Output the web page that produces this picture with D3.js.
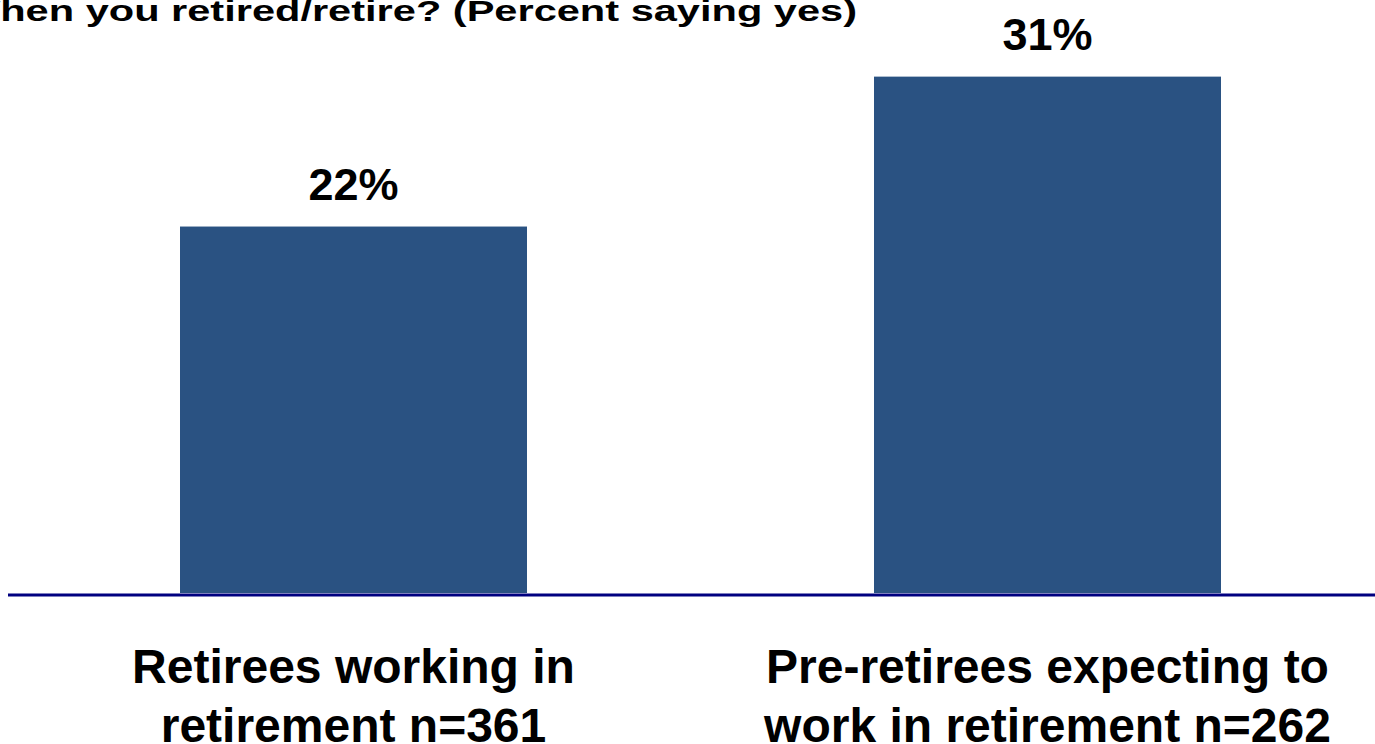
<!DOCTYPE html>
<html>
<head>
<meta charset="utf-8">
<script src="https://cdn.jsdelivr.net/npm/d3@7"></script>
<style>
  html, body { margin: 0; padding: 0; background: #fff; overflow: hidden; }
  svg { display: block; }
  text { font-family: "Liberation Sans", Arial, sans-serif; font-weight: bold; fill: #000; }
</style>
</head>
<body>
<svg id="chart" width="1375" height="744"></svg>
<script>
const titleHidden = "W";
const titleVisible = "hen you retired/retire? (Percent saying yes)";
const categories = ["Retirees working in retirement n=361", "Pre-retirees expecting to work in retirement n=262"];
const labelLines = [["Retirees working in", "retirement n=361"], ["Pre-retirees expecting to", "work in retirement n=262"]];
const values = [22, 31];

const W = 1375, H = 744;
const svg = d3.select("#chart");

const x = d3.scaleBand().domain(categories).range([6.5, 1394.5]).paddingInner(0.5).paddingOuter(0.25);
const y = d3.scaleLinear().domain([0, 35.6]).range([593, 0]);

// Title (left part clipped as in the reference; text drawn horizontally stretched)
const titleEnd = 857;
const tmp = svg.append("text").style("font-size", "29px").text(titleVisible);
const visW = tmp.node().getComputedTextLength();
tmp.remove();
const sx = titleEnd / visW;
svg.append("g")
  .attr("transform", `translate(${titleEnd},21) scale(${sx},1)`)
  .append("text")
  .attr("text-anchor", "end")
  .style("font-size", "29px")
  .text(titleHidden + titleVisible);

// Bars
svg.selectAll("rect.bar").data(values).enter().append("rect")
  .attr("class", "bar")
  .attr("x", (d, i) => x(categories[i]))
  .attr("width", x.bandwidth())
  .attr("y", d => y(d))
  .attr("height", d => y(0) - y(d))
  .attr("fill", "#2a5282");

// Baseline
svg.append("line")
  .attr("x1", 8).attr("x2", W)
  .attr("y1", y(0) + 2).attr("y2", y(0) + 2)
  .attr("stroke", "#000080").attr("stroke-width", 3);

// Value labels
svg.selectAll("text.val").data(values).enter().append("text")
  .attr("class", "val")
  .attr("x", (d, i) => x(categories[i]) + x.bandwidth() / 2)
  .attr("y", d => y(d) - 27)
  .attr("text-anchor", "middle")
  .style("font-size", "45px")
  .text(d => d + "%");

// Category labels
const cat = svg.selectAll("g.cat").data(categories).enter().append("g")
  .attr("class", "cat")
  .attr("transform", d => `translate(${x(d) + x.bandwidth() / 2},0)`);
cat.each(function(d, i) {
  d3.select(this).selectAll("text").data(labelLines[i]).enter().append("text")
    .attr("x", 0)
    .attr("y", (t, j) => 683 + j * 59)
    .attr("text-anchor", "middle")
    .style("font-size", "48px")
    .text(t => t);
});
</script>
</body>
</html>
